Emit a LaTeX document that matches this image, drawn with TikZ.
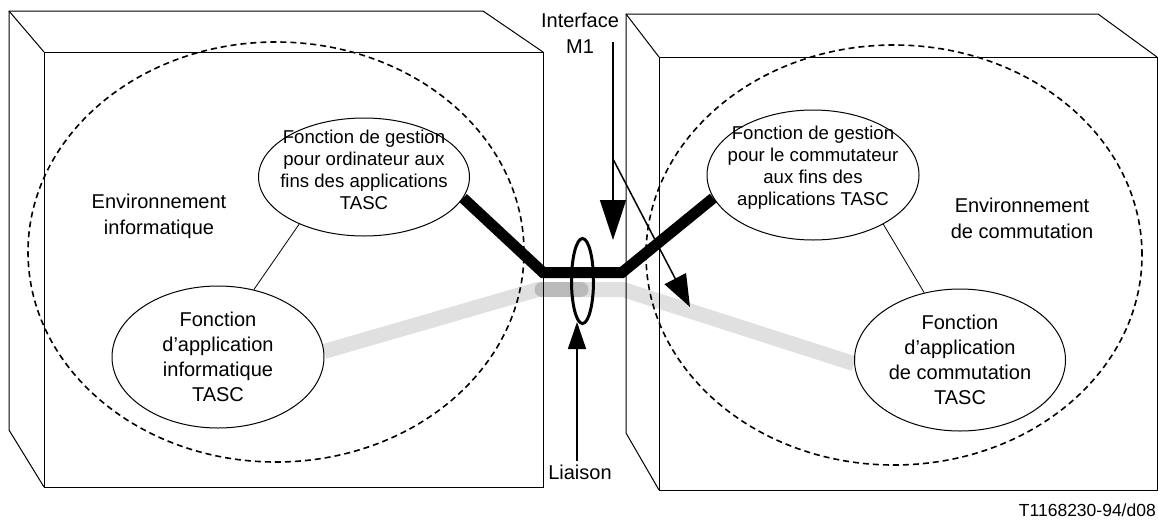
\documentclass[tikz,border=0pt]{standalone}
\usepackage{fontspec}
\setmainfont{Liberation Sans}
\usetikzlibrary{shapes.geometric,arrows.meta,backgrounds}

\begin{document}
\begin{tikzpicture}[
    x=1pt, y=-1pt,
    box/.style={line width=1pt},
    zone/.style={dash pattern=on 6pt off 4pt, line width=1.6pt},
    func/.style={ellipse, draw, line width=1pt, inner sep=0pt},
    gtext/.style={align=center, font=\fontsize{18.6}{22}\selectfont},
    atext/.style={align=center, font=\fontsize{20}{25}\selectfont},
    lbl/.style={align=center, font=\fontsize{20}{26}\selectfont},
    mgmt/.style={line width=11pt, line join=miter},
    appl/.style={line width=15pt, black!12},
    arrow/.style={-{Triangle[length=40pt,width=26pt]}, line width=1.5pt},
    sarrow/.style={-{Triangle[length=27pt,width=18pt]}, line width=1.5pt}
]

\useasboundingbox (0,0) rectangle (1158,520);

% left box
\draw[box] (9,430) -- (9,11) -- (483,11) -- (543,52);
\draw[box] (9,11) -- (44,52);
\draw[box] (9,430) -- (44,487);
\draw[box] (44,52) rectangle (543,487);

% right box
\draw[box] (626,433) -- (626,14) -- (1098,14) -- (1157,57);
\draw[box] (626,14) -- (659,57);
\draw[box] (626,433) -- (659,490);
\draw[box] (659,57) rectangle (1157,490);

% environments
\draw[zone] (276,252) ellipse [x radius=248pt, y radius=210pt];
\draw[zone] (894,255) ellipse [x radius=248pt, y radius=210pt];

\node[lbl] (EI) at (159,216) {Environnement\\informatique};
\node[lbl] (EC) at (1022,218) {Environnement\\de commutation};

% functions
\node[func, minimum width=211pt, minimum height=118pt,
      label={[gtext, yshift=7pt]center:Fonction de gestion\\pour ordinateur aux\\fins des applications\\TASC}]
      (GI) at (364,177) {};
\node[func, minimum width=212pt, minimum height=142pt,
      label={[atext]center:Fonction\\d’application\\informatique\\TASC}]
      (AI) at (218,357) {};
\node[func, minimum width=212pt, minimum height=130pt,
      label={[gtext, yshift=7pt]center:Fonction de gestion\\pour le commutateur\\aux fins des\\applications TASC}]
      (GC) at (813,175) {};
\node[func, minimum width=211pt, minimum height=142pt,
      label={[atext]center:Fonction\\d’application\\de commutation\\TASC}]
      (AC) at (960,360) {};

\draw[line width=0.8pt] (GI.-144) -- (AI.62);
\draw[line width=0.8pt] (GC.-35) -- (AC.118);

% link
\coordinate (gL) at (538,289.5);
\coordinate (gR) at (623,289.5);
\coordinate (kL) at (543,272.5);
\coordinate (kR) at (622,272.5);

\begin{scope}[on background layer]
\draw[appl] (AI.3) -- (gL) -- (gR) -- (AC.182);
\draw[line width=15pt, black!27, line cap=round] (542,289.5) -- (581,289.5);
\end{scope}
\draw[mgmt] (GI.-12) -- (kL) -- (kR) -- (GC.-167);

\node[ellipse, draw, line width=3pt, minimum width=22pt, minimum height=85pt, inner sep=0pt]
      (L) at (582.5,281) {};

\node[lbl] (Li) at (580,472) {Liaison};
\draw[sarrow] (Li.north -| 577,0) -- (577,322);

% interface M1
\node[lbl] (IF) at (580,33) {Interface\\M1};
\coordinate (ifTop) at (613,42);
\coordinate (ifTip) at (613,240);
\coordinate (ifFork) at (613,159);
\coordinate (ifEnd) at (690,307);
\draw[arrow] (ifTop) -- (ifTip);
\draw[-{Triangle[length=32pt,width=24pt]}, line width=1.5pt] (ifFork) -- (ifEnd);

\node[anchor=east, inner sep=0pt, font=\fontsize{17.5}{21}\selectfont] (ref) at (1156,510) {T1168230-94/d08};
\end{tikzpicture}
\end{document}
